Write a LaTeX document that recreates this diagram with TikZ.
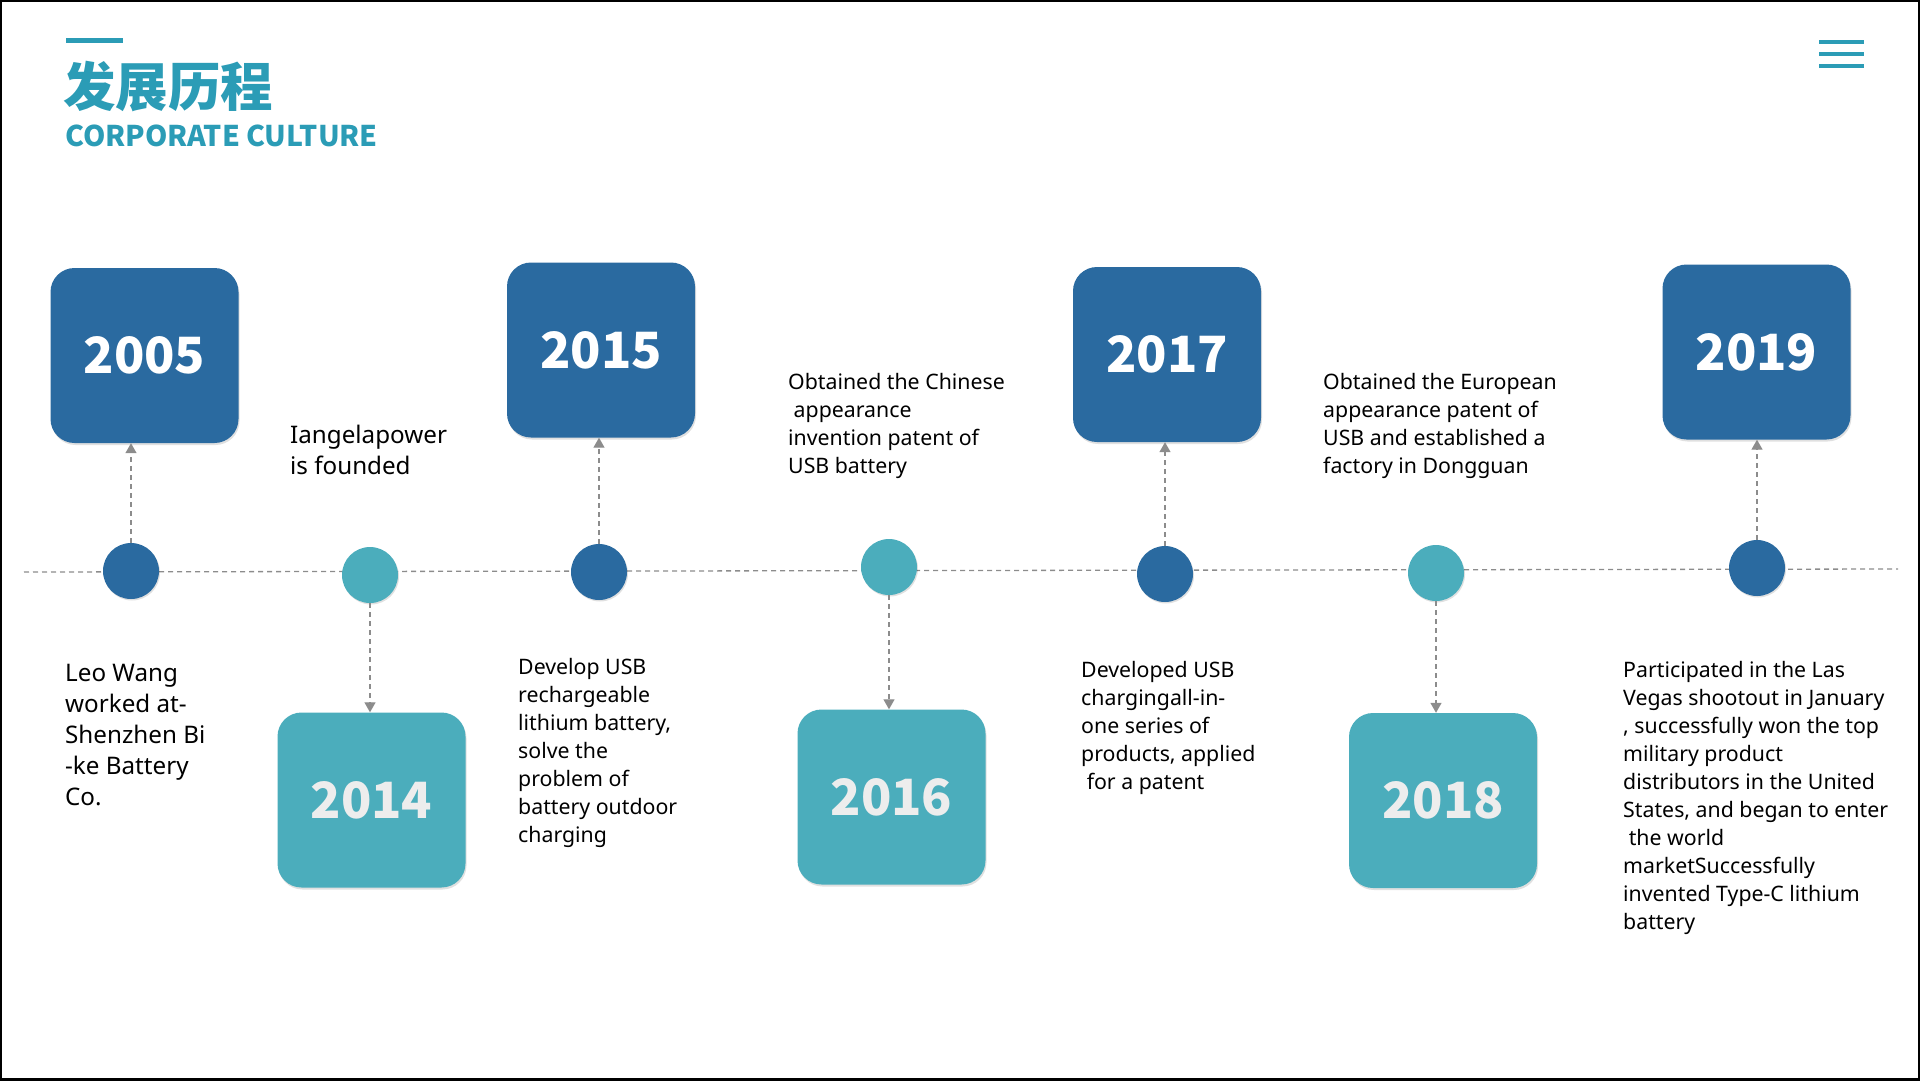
\documentclass[tikz,border=0pt]{standalone}
\usepackage{fontspec}
\setmainfont{Noto Sans}
\newfontfamily\cjk{Noto Sans CJK SC}
\usetikzlibrary{arrows.meta,shadows}
\definecolor{darkblue}{HTML}{2A6AA0}
\definecolor{yearteal}{HTML}{4BADBC}
\definecolor{titleblue}{HTML}{2B9CB6}
\definecolor{linegray}{HTML}{8C8C8C}
\begin{document}
\begin{tikzpicture}[
        x=1pt, y=-1pt,
        yearbox/.style={rounded corners=24pt, minimum width=188pt, minimum height=175pt, inner sep=0pt,
            font=\cjk\bfseries\fontsize{50}{50}\selectfont,
            drop shadow={fill=black, opacity=0.12, shadow xshift=1pt, shadow yshift=-2pt}},
        darkbox/.style={yearbox, fill=darkblue, text=white},
        lightbox/.style={yearbox, fill=yearteal, text=white!93!black},
        dot/.style={circle, minimum size=56pt, inner sep=0pt,
            drop shadow={fill=black, opacity=0.12, shadow xshift=1pt, shadow yshift=-1.5pt}},
        darkdot/.style={dot, fill=darkblue},
        lightdot/.style={dot, fill=yearteal},
        note/.style={anchor=north west, align=left, inner sep=0pt, font=\fontsize{21.3}{28}\selectfont},
        bignote/.style={note, font=\fontsize{24.2}{31}\selectfont},
        link/.style={draw=linegray, line width=1.3pt, dash pattern=on 5pt off 4pt,
            -{Triangle[width=11pt,length=10pt]}},
    ]
    \useasboundingbox (0,0) rectangle (1920,1080);
    \draw[black, line width=4pt] (0,0) rectangle (1920,1080);

    \draw[titleblue, line width=5pt] (66,40.5) -- (123,40.5);
    \node[anchor=west, inner sep=0pt, text=titleblue, font=\cjk\bfseries\fontsize{52.5}{52.5}\selectfont](title) at (63,87){发展历程};
    \node[anchor=base west, inner sep=0pt, text=titleblue, font=\cjk\bfseries\fontsize{28.5}{28.5}\selectfont](subtitle) at (65,146){CORPORATE CULTURE};
    \foreach \y in {42,54,66}
        \draw[titleblue, line width=4.5pt] (1819,\y) -- (1864,\y);

    \coordinate (lineL) at (24,572);
    \coordinate (lineR) at (1898,569);
    \draw[linegray, line width=1.3pt, dash pattern=on 5pt off 4pt] (lineL) -- (lineR);

    \node[darkbox](y2005) at (144.5,355.5){2005};
    \node[lightbox](y2014) at (371.5,800){2014};
    \node[darkbox](y2015) at (601,350){2015};
    \node[lightbox](y2016) at (891.5,797){2016};
    \node[darkbox](y2017) at (1167,354.5){2017};
    \node[lightbox](y2018) at (1443,800.5){2018};
    \node[darkbox](y2019) at (1756.5,352){2019};

    \node[darkdot](d2005) at (131,571){};
    \node[lightdot](d2014) at (370,575){};
    \node[darkdot](d2015) at (599,572){};
    \node[lightdot](d2016) at (889,567){};
    \node[darkdot](d2017) at (1165,574){};
    \node[lightdot](d2018) at (1436,573){};
    \node[darkdot](d2019) at (1757,568){};

    \draw[link] (d2005.north) -- (d2005.north |- y2005.south);
    \draw[link] (d2014.south) -- (d2014.south |- y2014.north);
    \draw[link] (d2015.north) -- (d2015.north |- y2015.south);
    \draw[link] (d2016.south) -- (d2016.south |- y2016.north);
    \draw[link] (d2017.north) -- (d2017.north |- y2017.south);
    \draw[link] (d2018.south) -- (d2018.south |- y2018.north);
    \draw[link] (d2019.north) -- (d2019.north |- y2019.south);

    \node[bignote](t2005) at (65,664){Leo Wang\\worked at-\\Shenzhen Bi\\-ke Battery\\Co.};
    \node[bignote](t2014) at (290,425){Iangelapower\\is founded};
    \node[note](t2015) at (518,658){Develop USB\\rechargeable\\lithium battery,\\solve the\\problem of\\battery outdoor\\charging};
    \node[note](t2016) at (788,373){Obtained the Chinese\\\ appearance\\invention patent of\\USB battery};
    \node[note](t2017) at (1081,661){Developed USB\\chargingall-in-\\one series of\\products, applied\\\ for a patent};
    \node[note](t2018) at (1323,373){Obtained the European\\appearance patent of\\USB and established a\\factory in Dongguan};
    \node[note](t2019) at (1623,661){Participated in the Las\\Vegas shootout in January\\, successfully won the top\\military product\\distributors in the United\\States, and began to enter\\\ the world\\marketSuccessfully\\invented Type-C lithium\\battery};
\end{tikzpicture}
\end{document}
